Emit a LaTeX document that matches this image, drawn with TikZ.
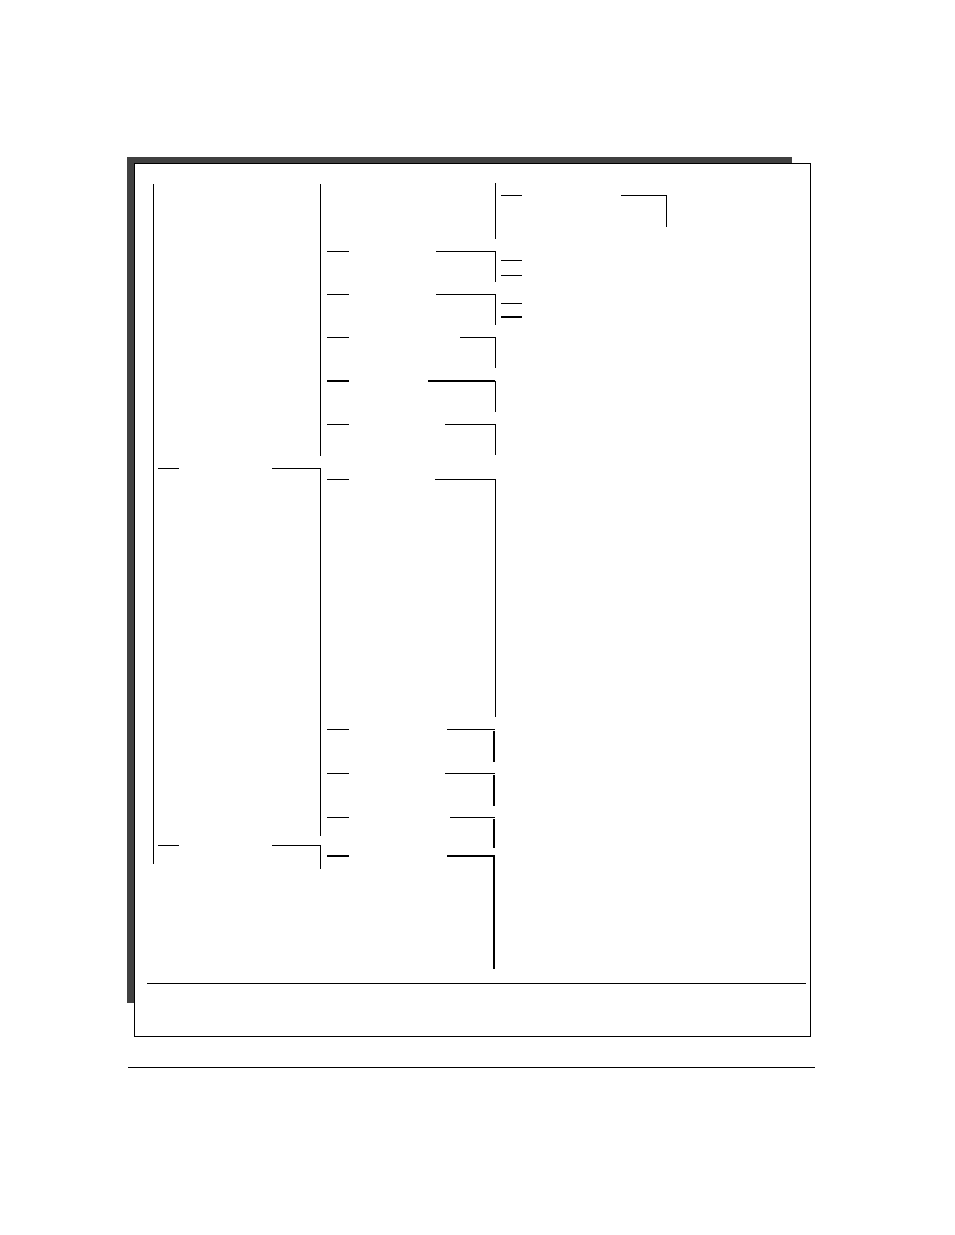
\documentclass[tikz,border=0pt]{standalone}
\definecolor{shadowgray}{HTML}{404040}
\tikzset{
  rule/.style={line width=1pt},
  heavyrule/.style={line width=2pt},
}
\begin{document}
\begin{tikzpicture}[x=1pt,y=-1pt,rule]
\useasboundingbox (0,0) rectangle (954,1235);
\fill[shadowgray] (127,157) rectangle (792,1003);
\draw[fill=white] (134,163) rectangle (810,1036);
\draw (147,983) -- (806,983);
\draw (128,1067) -- (815,1067);
\draw (153,184) -- (153,864);
\draw (320,184) -- (320,456);
\draw (158,468) -- (179,468);
\draw (272,468) -- (320,468) -- (320,836);
\draw (158,845) -- (179,845);
\draw (272,845) -- (320,845) -- (320,869);
\draw (495,183) -- (495,239);
\draw (501,195) -- (522,195);
\draw (621,195) -- (666,195) -- (666,227);
\draw (327,251) -- (349,251);
\draw (436,251) -- (495,251) -- (495,282);
\draw (501,260) -- (522,260);
\draw (501,275) -- (522,275);
\draw (327,294) -- (349,294);
\draw (436,294) -- (495,294) -- (495,325);
\draw (501,303) -- (522,303);
\draw[heavyrule] (501,317) -- (522,317);
\draw (327,337) -- (349,337);
\draw (460,337) -- (495,337) -- (495,368);
\draw[heavyrule] (327,381) -- (349,381);
\draw[heavyrule] (428,381) -- (495,381);
\draw (495,381) -- (495,412);
\draw (327,424) -- (349,424);
\draw (445,424) -- (495,424) -- (495,455);
\draw (327,479) -- (349,479);
\draw (435,479) -- (495,479) -- (495,717);
\draw (327,729) -- (349,729);
\draw (447,729) -- (495,729);
\draw[heavyrule] (494,731) -- (494,762);
\draw (327,773) -- (349,773);
\draw (445,773) -- (495,773);
\draw[heavyrule] (494,775) -- (494,806);
\draw (327,817) -- (349,817);
\draw (450,817) -- (495,817);
\draw[heavyrule] (494,819) -- (494,848);
\draw[heavyrule] (327,856) -- (349,856);
\draw[heavyrule] (447,856) -- (494,856) -- (494,969);
\end{tikzpicture}
\end{document}
